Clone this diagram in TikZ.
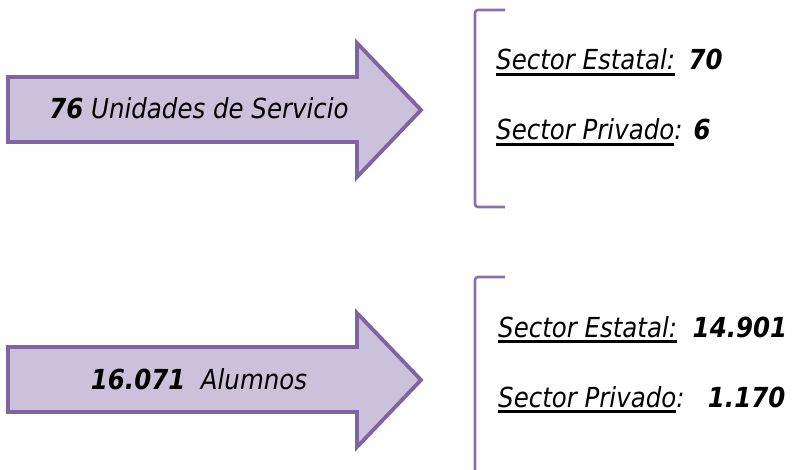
\documentclass[tikz,border=0pt]{standalone}
\usepackage{fontspec}
\usepackage{graphicx}
\setmainfont{DejaVu Sans}
\definecolor{arrowfill}{HTML}{CCC1DA}
\definecolor{arrowline}{HTML}{8064A2}
\definecolor{bracketline}{HTML}{8A6FB0}
\newcommand\myul[1]{\setbox0\hbox{#1}\rlap{\rule[-4.9pt]{\wd0}{2.1pt}}\copy0\relax}
\newcommand\bnum[1]{\textbf{#1}}
\newcommand\tall[1]{\scalebox{1.02}[1.15]{#1}}
\tikzset{
  bigarrow/.style={fill=arrowfill, draw=arrowline, line width=3.8pt, line join=miter},
  bracket/.style={draw=bracketline, line width=2.6pt, rounded corners=3pt},
  label/.style={inner sep=0pt, font=\fontsize{24}{28}\selectfont\itshape},
}
\begin{document}
\begin{tikzpicture}[x=1pt,y=-1pt]
\useasboundingbox (0,0) rectangle (797,470);
% top arrow
\draw[bigarrow] (8,77) -- (357,77) -- (357,43) -- (421,110) -- (357,177) -- (357,142) -- (8,142) -- cycle;
\node[label, anchor=base] (t1) at (199,119) {\tall{\bnum{76} Unidades de Servicio}};
% bottom arrow
\draw[bigarrow] (8,347) -- (357,347) -- (357,313) -- (421,380) -- (357,447) -- (357,412) -- (8,412) -- cycle;
\node[label, anchor=base] (t2) at (199,389) {\tall{\bnum{16.071}\ \ Alumnos}};
% brackets
\draw[bracket] (505,10) -- (475,10) -- (475,207) -- (505,207);
\draw[bracket] (505,277) -- (475,277) -- (475,475);
% right texts
\node[label, anchor=base west] (a1) at (496,70) {\tall{\myul{Sector Estatal:}\hspace{0.55em}\bnum{70}}};
\node[label, anchor=base west] (a2) at (496,140) {\tall{\myul{Sector Privado}:\hspace{0.45em}\bnum{6}}};
\node[label, anchor=base west] (b1) at (498,337) {\tall{\myul{Sector Estatal:}\ \ \bnum{14.901}}};
\node[label, anchor=base west] (b2) at (498,407) {\tall{\myul{Sector Privado}:\ \ \ \bnum{1.170}}};
\end{tikzpicture}
\end{document}
